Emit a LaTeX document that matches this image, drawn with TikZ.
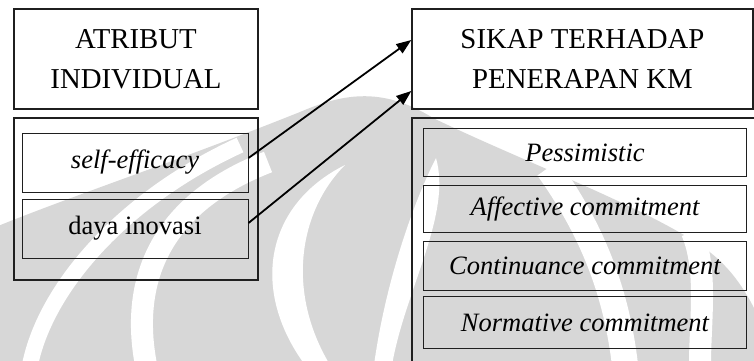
\documentclass[tikz,border=0pt]{standalone}
\usepackage{fontspec}
\setmainfont{Liberation Serif}
\usetikzlibrary{arrows.meta}

\definecolor{ink}{gray}{0.12}
\definecolor{wmark}{gray}{0.845}

\tikzset{
  titlebox/.style={draw=ink, line width=1.4pt, inner sep=0pt, align=center,
    font=\fontsize{28.8}{40}\selectfont},
  groupbox/.style={draw=ink, line width=1.4pt, inner sep=0pt},
  itembox/.style={draw=ink, line width=1pt, inner sep=0pt,
    font=\fontsize{26.5}{30}\selectfont},
  arr/.style={draw=black, line width=1.8pt, -{Triangle[length=15pt,width=11pt]}},
  band/.style={draw=white, line cap=butt}
}

\begin{document}
\begin{tikzpicture}[x=1pt,y=-1pt]
\useasboundingbox[fill=white] (0,0) rectangle (754,360);

% faded emblem behind the diagram
\begin{scope}
  \clip (0,0) rectangle (754,360);
  \fill[wmark] (-2,226) .. controls (80,193) and (180,160) .. (300,112)
    .. controls (340,95) and (380,85) .. (433,118)
    .. controls (520,160) and (640,205) .. (700,245)
    .. controls (730,265) and (745,290) .. (756,312)
    -- (756,362) -- (-2,362) -- cycle;
  % left arcs
  \draw[band, line width=16pt] (30,365) .. controls (45,290) and (120,200) .. (240,145);
  \draw[band, line width=22pt] (146,365) .. controls (128,270) and (170,200) .. (268,162);
  % crescents around the central egg
  \fill[white] (305,365) .. controls (250,290) and (265,205) .. (345,165)
    .. controls (300,210) and (285,290) .. (330,365) -- cycle;
  \fill[white] (392,365) .. controls (405,290) and (452,215) .. (436,158)
    .. controls (412,205) and (385,285) .. (374,365) -- cycle;
  % right arcs
  \draw[band, line width=26pt] (548,168) .. controls (585,220) and (615,280) .. (625,365);
  \draw[band, line width=22pt] (692,232) .. controls (708,270) and (700,320) .. (700,365);
\end{scope}

% left column
\node[titlebox, minimum width=244pt, minimum height=100pt] (atr) at (136,59)
  {ATRIBUT\\INDIVIDUAL};
\node[groupbox, minimum width=244pt, minimum height=162pt] (lgrp) at (136,199) {};
\node[itembox, minimum width=226pt, minimum height=59pt] (se) at (135,162.5)
  {\itshape self-efficacy};
\node[itembox, minimum width=226pt, minimum height=59pt] (di) at (135,228.5)
  {daya inovasi};

% right column
\node[titlebox, minimum width=341pt, minimum height=100pt] (sikap) at (582.5,59)
  {SIKAP TERHADAP\\PENERAPAN KM};
\coordinate (rgtop) at (412,118);
\draw[ink, line width=1.4pt] (412,362) -- (rgtop) -- (756,118);
\node[itembox, minimum width=323pt, minimum height=48.5pt] (pes) at (585,152.5)
  {\itshape Pessimistic};
\node[itembox, minimum width=323pt, minimum height=47.5pt] (aff) at (585,208.8)
  {\itshape Affective commitment};
\node[itembox, minimum width=323pt, minimum height=48.5pt] (con) at (585,265.8)
  {\itshape Continuance commitment};
\node[itembox, minimum width=323pt, minimum height=51.5pt] (nor) at (585,322.5)
  {\itshape Normative commitment};

% influences
\draw[arr] ([yshift=4.5pt]se.east) -- ([yshift=19pt]sikap.west);
\draw[arr] ([yshift=5.5pt]di.east) -- ([yshift=-32pt]sikap.west);
\end{tikzpicture}
\end{document}
